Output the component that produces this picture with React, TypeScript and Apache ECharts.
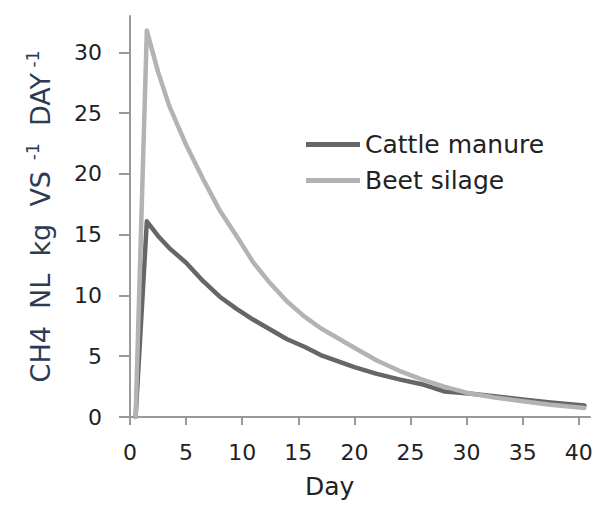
import React, { useEffect, useRef } from "react";
import * as echarts from "echarts";

const days = [0.5, 1.5, 2.5, 3.5, 5, 6.5, 8, 9.5, 11, 12.5, 14, 15.5, 17, 18.5, 20, 22, 24, 26, 28, 30, 32.5, 35, 37.5, 40.5];
const cattleManure = [0, 16.1, 14.9, 13.9, 12.7, 11.2, 9.9, 8.9, 8.0, 7.2, 6.4, 5.8, 5.1, 4.6, 4.1, 3.55, 3.1, 2.7, 2.1, 1.95, 1.7, 1.45, 1.2, 0.95];
const beetSilage = [0, 31.8, 28.4, 25.6, 22.4, 19.6, 17.0, 14.9, 12.7, 11.0, 9.5, 8.3, 7.3, 6.5, 5.7, 4.65, 3.8, 3.1, 2.5, 2.0, 1.6, 1.3, 1.0, 0.75];
const xTicks = [0, 5, 10, 15, 20, 25, 30, 35, 40];
const yTicks = [0, 5, 10, 15, 20, 25, 30];

export default function App() {
  const ref = useRef<HTMLDivElement>(null);
  useEffect(() => {
    const chart = echarts.init(ref.current!, null, { renderer: "svg" });
    const font = "DejaVu Sans";
    chart.setOption({
      animation: false,
      backgroundColor: "#ffffff",
      grid: { left: 130, right: 18, top: 16, bottom: 92 },
      legend: {
        orient: "vertical",
        left: 306,
        top: 132,
        padding: 0,
        icon: "rect",
        itemWidth: 54,
        itemHeight: 5,
        itemGap: 11,
        textStyle: { fontFamily: font, fontSize: 25, color: "#222" },
        data: ["Cattle manure", "Beet silage"],
      },
      xAxis: {
        type: "value",
        min: 0,
        max: 41,
        axisLine: { lineStyle: { color: "#999", width: 2 } },
        axisTick: { customValues: xTicks, length: 8, lineStyle: { color: "#999", width: 2 } },
        axisLabel: { customValues: xTicks, margin: 24, fontFamily: font, fontSize: 22, color: "#222" },
        splitLine: { show: false },
      },
      yAxis: {
        type: "value",
        min: 0,
        max: 33,
        axisLine: { show: true, lineStyle: { color: "#999", width: 2 } },
        axisTick: { show: true, customValues: yTicks, length: 11, lineStyle: { color: "#999", width: 2 } },
        axisLabel: { customValues: yTicks, margin: 28, fontFamily: font, fontSize: 22, color: "#222" },
        splitLine: { show: false },
        name: "{a|CH4  NL  kg  VS}{s|  -1}{a|  DAY}{s| -1}",
        nameLocation: "middle",
        nameRotate: 90,
        nameGap: 74,
        nameTextStyle: {
          rich: {
            a: { fontFamily: font, fontSize: 27, color: "#2b3a55", lineHeight: 32 },
            s: { fontFamily: font, fontSize: 17, color: "#2b3a55", verticalAlign: "top", lineHeight: 32 },
          },
        },
      },
      graphic: [
        {
          type: "text",
          left: 305,
          top: 474,
          style: { text: "Day", fontFamily: font, fontSize: 25, fill: "#222" },
        },
      ],
      series: [
        {
          name: "Cattle manure",
          type: "line",
          data: days.map((d, i) => [d, cattleManure[i]]),
          symbol: "none",
          lineStyle: { color: "#666666", width: 4.5, join: "round", cap: "round" },
          itemStyle: { color: "#666666" },
        },
        {
          name: "Beet silage",
          type: "line",
          data: days.map((d, i) => [d, beetSilage[i]]),
          symbol: "none",
          lineStyle: { color: "#b3b3b3", width: 4.5, join: "round", cap: "round" },
          itemStyle: { color: "#b3b3b3" },
        },
      ],
    });
    return () => chart.dispose();
  }, []);
  return <div ref={ref} style={{ position: "fixed", left: 0, top: 0, width: 608, height: 509 }} />;
}
